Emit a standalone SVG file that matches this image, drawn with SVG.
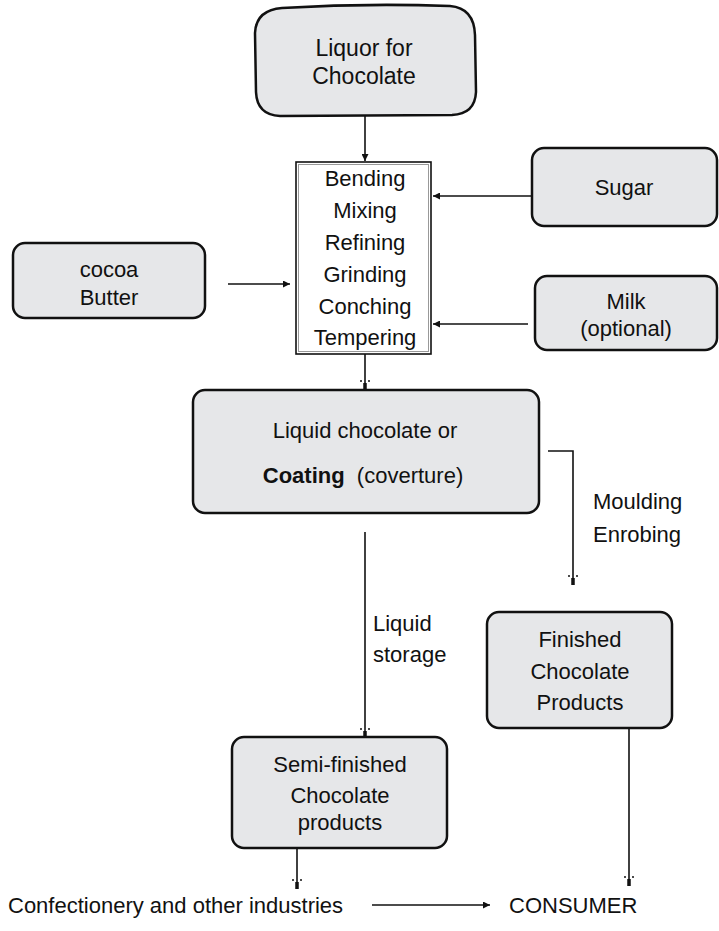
<svg xmlns="http://www.w3.org/2000/svg" width="719" height="931" viewBox="0 0 719 931">
<defs>
<style>
.box{fill:#e6e7e9;stroke:#111;stroke-width:2.5}
.t{font-family:"Liberation Sans",Arial,sans-serif;font-size:22px;fill:#111;text-anchor:middle}
.ts{font-family:"Liberation Sans",Arial,sans-serif;font-size:22px;fill:#111}
.ln{fill:none;stroke:#111;stroke-width:1.6}
.stub{stroke:#111;stroke-width:3.5}
.dot{fill:#111}
</style>
<marker id="tri" viewBox="0 0 10 10" refX="10" refY="5" markerWidth="7" markerHeight="7" markerUnits="userSpaceOnUse" orient="auto">
<path d="M0,0 L10,5 L0,10 Z" fill="#111"/>
</marker>
</defs>
<rect width="719" height="931" fill="#fff"/>

<g id="connectors">
<line class="ln" x1="365" y1="116" x2="365" y2="161" marker-end="url(#tri)"/>
<line class="ln" x1="532" y1="196" x2="433" y2="196" marker-end="url(#tri)"/>
<line class="ln" x1="528" y1="324" x2="433" y2="324" marker-end="url(#tri)"/>
<line class="ln" x1="228" y1="284" x2="290" y2="284" marker-end="url(#tri)"/>
<line class="ln" x1="372" y1="905" x2="490" y2="905" marker-end="url(#tri)"/>

<line class="ln" x1="365" y1="353" x2="365" y2="390"/>
<line class="stub" x1="365" y1="383" x2="365" y2="390"/>
<circle class="dot" cx="361" cy="381" r="1"/><circle class="dot" cx="369" cy="381" r="1"/>

<polyline class="ln" points="548,451 573,451 573,585"/>
<line class="stub" x1="573" y1="578" x2="573" y2="585"/>
<circle class="dot" cx="569" cy="576" r="1"/><circle class="dot" cx="577" cy="576" r="1"/>

<line class="ln" x1="365" y1="532" x2="365" y2="737"/>
<line class="stub" x1="365" y1="731" x2="365" y2="737"/>
<circle class="dot" cx="361" cy="729" r="1"/><circle class="dot" cx="369" cy="729" r="1"/>

<line class="ln" x1="297" y1="848" x2="297" y2="889"/>
<line class="stub" x1="297" y1="882" x2="297" y2="889"/>
<circle class="dot" cx="293" cy="880" r="1"/><circle class="dot" cx="301" cy="880" r="1"/>

<line class="ln" x1="629" y1="728" x2="629" y2="886"/>
<line class="stub" x1="629" y1="879" x2="629" y2="886"/>
<circle class="dot" cx="625" cy="877" r="1"/><circle class="dot" cx="633" cy="877" r="1"/>
</g>

<g id="liquor">
<path class="box" d="M282,8 Q365,3 450,6 Q474,8 475,35 L476,92 Q475,114 452,115 L280,116 Q257,115 256,92 L255,33 Q256,10 282,8 Z"/>
<text class="t" x="364" y="56" style="font-size:23px">Liquor for</text>
<text class="t" x="364" y="84" style="font-size:23px">Chocolate</text>
</g>

<g id="process">
<rect x="296" y="162" width="135" height="192" fill="#fff" stroke="#111" stroke-width="1.6"/>
<rect x="298.5" y="164.5" width="130" height="187" fill="none" stroke="#999" stroke-width="1"/>
<text class="t" x="365" y="186">Bending</text>
<text class="t" x="365" y="218">Mixing</text>
<text class="t" x="365" y="250">Refining</text>
<text class="t" x="365" y="282">Grinding</text>
<text class="t" x="365" y="314">Conching</text>
<text class="t" x="365" y="345">Tempering</text>
</g>

<g id="sugar">
<rect class="box" x="532" y="148" width="185" height="78" rx="12"/>
<text class="t" x="624" y="195">Sugar</text>
</g>

<g id="milk">
<rect class="box" x="535" y="276" width="182" height="74" rx="12"/>
<text class="t" x="626" y="309">Milk</text>
<text class="t" x="626" y="336">(optional)</text>
</g>

<g id="cocoa">
<rect class="box" x="13" y="243" width="192" height="75" rx="12"/>
<text class="t" x="109" y="277">cocoa</text>
<text class="t" x="109" y="305">Butter</text>
</g>

<g id="liquid">
<rect class="box" x="193" y="390" width="346" height="123" rx="12"/>
<text class="t" x="365" y="438">Liquid chocolate or</text>
<text class="t" x="363" y="483" xml:space="preserve"><tspan font-weight="bold">Coating</tspan>  (coverture)</text>
</g>

<g id="labels">
<text class="ts" x="593" y="509">Moulding</text>
<text class="ts" x="593" y="542">Enrobing</text>
<text class="ts" x="373" y="631">Liquid</text>
<text class="ts" x="373" y="662">storage</text>
</g>

<g id="finished">
<rect class="box" x="487" y="612" width="185" height="116" rx="12"/>
<text class="t" x="580" y="647">Finished</text>
<text class="t" x="580" y="679">Chocolate</text>
<text class="t" x="580" y="710">Products</text>
</g>

<g id="semi">
<rect class="box" x="232" y="737" width="215" height="111" rx="12"/>
<text class="t" x="340" y="772">Semi-finished</text>
<text class="t" x="340" y="803">Chocolate</text>
<text class="t" x="340" y="830">products</text>
</g>

<g id="confectionery">
<text class="ts" x="8" y="913">Confectionery and other industries</text>
</g>
<g id="consumer">
<text class="ts" x="509" y="913">CONSUMER</text>
</g>
</svg>
